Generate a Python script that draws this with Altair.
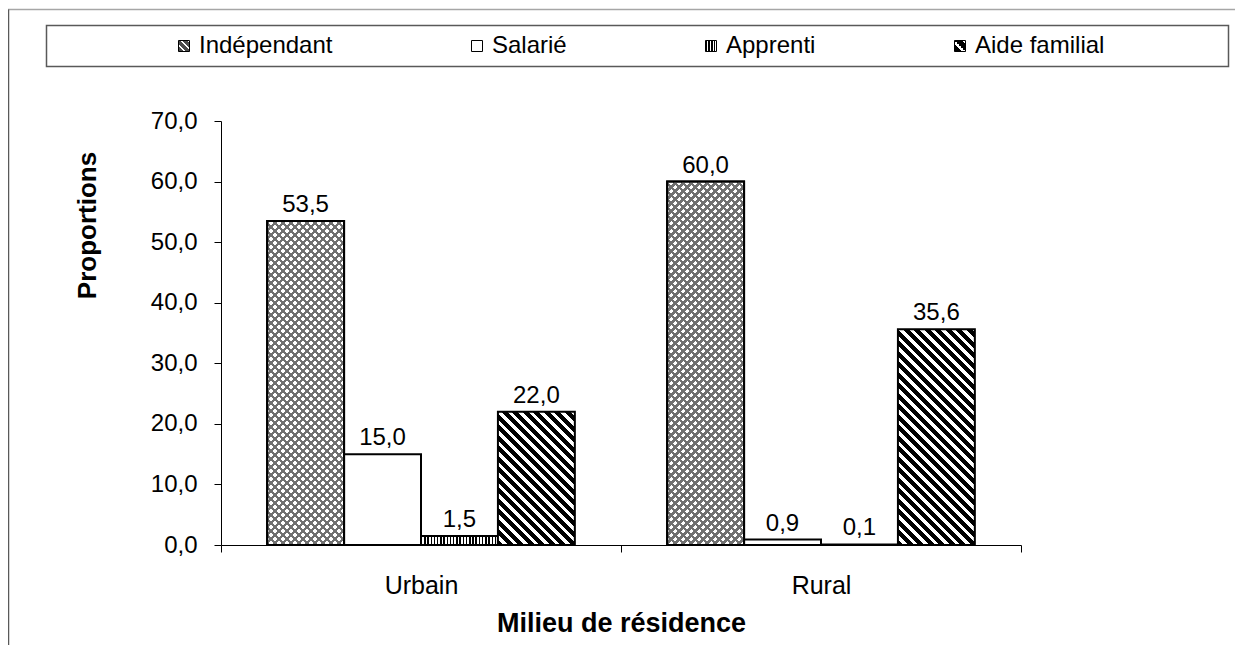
import altair as alt
import pandas as pd

# ---------------- data ----------------
milieux = ["Urbain", "Rural"]
statuts = ["Indépendant", "Salarié", "Apprenti", "Aide familial"]
independant = [53.5, 60.0]
salarie = [15.0, 0.9]
apprenti = [1.5, 0.1]
aide_familial = [22.0, 35.6]
y_ticks = [0, 10, 20, 30, 40, 50, 60, 70]

series = {
    "Indépendant": independant,
    "Salarié": salarie,
    "Apprenti": apprenti,
    "Aide familial": aide_familial,
}
rows = []
for i, m in enumerate(milieux):
    for s in statuts:
        rows.append({"milieu": m, "statut": s, "valeur": series[s][i]})
df = pd.DataFrame(rows)

# ---------------- layout ----------------
W, H = 800, 424
Y_MAX = 70
PAD_OUT = 0.6
BAR_W = (W / len(milieux)) / (len(statuts) + 2 * PAD_OUT)
PX = H / Y_MAX
FONT = "Liberation Sans"


def stripe_stops(n, frac, dark, light):
    stops = []
    for i in range(n):
        a = i / n
        b = (i + frac) / n
        c = (i + 1) / n
        stops += [
            {"offset": round(a, 5), "color": dark},
            {"offset": round(b, 5), "color": dark},
            {"offset": round(b, 5), "color": light},
            {"offset": round(c, 5), "color": light},
        ]
    return stops


def diag_back(w, h, period, frac, dark, light):
    # "\" stripes at 45 degrees, exact horizontal period in pixels
    h = max(h, 0.5)
    n = max(1, -(-int(w + h) // int(period)) + 1)
    k = n * period / (w * w + h * h)
    return {"gradient": "linear", "x1": 0, "y1": 1, "x2": k * w, "y2": 1 - k * h,
            "stops": stripe_stops(n, frac, dark, light)}


def diag_fwd(w, h, period, frac, dark, light):
    # "/" stripes at 45 degrees
    h = max(h, 0.5)
    n = max(1, -(-int(w + h) // int(period)) + 1)
    k = n * period / (w * w + h * h)
    return {"gradient": "linear", "x1": 0, "y1": 0, "x2": k * w, "y2": k * h,
            "stops": stripe_stops(n, frac, dark, light)}


def vertical(w, period, frac, dark, light):
    n = max(1, round(w / period))
    return {"gradient": "linear", "x1": 0, "y1": 0, "x2": 1, "y2": 0,
            "stops": stripe_stops(n, frac, dark, light)}


def js(obj):
    # turn a gradient dict into a Vega expression object literal
    if isinstance(obj, dict):
        return "{" + ",".join(f"{k}:{js(v)}" for k, v in obj.items()) + "}"
    if isinstance(obj, list):
        return "[" + ",".join(js(v) for v in obj) + "]"
    if isinstance(obj, str):
        return "'" + obj + "'"
    return repr(obj)


def test(m, s):
    return f"datum.milieu === '{m}' && datum.statut === '{s}'"


GREY = "#707070"
base_conds = []
over_conds = []
for i, m in enumerate(milieux):
    h_ind = independant[i] * PX
    base_conds.append({"test": test(m, "Indépendant"),
                       "value": diag_back(BAR_W, h_ind, 8.0, 0.45, GREY, "#ffffff")})
    over_conds.append({"test": test(m, "Indépendant"),
                       "value": diag_fwd(BAR_W, h_ind, 8.0, 0.45, GREY, "rgba(255,255,255,0)")})
    base_conds.append({"test": test(m, "Apprenti"),
                       "value": vertical(BAR_W, 3.2, 0.45, "#000000", "#ffffff")})
    h_aide = aide_familial[i] * PX
    base_conds.append({"test": test(m, "Aide familial"),
                       "value": diag_back(BAR_W, h_aide, 10.5, 0.55, "#000000", "#ffffff")})

# legend swatches (small patterned squares)
sw_ind = {"gradient": "linear", "x1": 0, "y1": 1, "x2": 1, "y2": 0,
          "stops": stripe_stops(3, 0.7, "#4a4a4a", "#ffffff")}
sw_app = {"gradient": "linear", "x1": 0, "y1": 0, "x2": 1, "y2": 0,
          "stops": stripe_stops(4, 0.55, "#000000", "#ffffff")}
sw_aide = {"gradient": "linear", "x1": 0, "y1": 1, "x2": 1, "y2": 0,
           "stops": stripe_stops(2, 0.65, "#000000", "#ffffff")}
legend_range = [alt.ExprRef(js(sw_ind)), "#ffffff", alt.ExprRef(js(sw_app)), alt.ExprRef(js(sw_aide))]

x_enc = alt.X(
    "milieu:N", sort=milieux,
    scale=alt.Scale(paddingInner=0, paddingOuter=0),
    axis=alt.Axis(
        title="Milieu de résidence", labelAngle=0, tickBand="extent",
        labelFontSize=25, labelPadding=21, labelColor="black", labelFont=FONT,
        tickSize=7, tickColor="black", domainColor="black",
        titleFontSize=27, titleFontWeight="bold", titleColor="black", titleFont=FONT,
        titlePadding=12,
    ),
)
xo_enc = alt.XOffset("statut:N", sort=statuts,
                     scale=alt.Scale(domain=statuts, paddingInner=0, paddingOuter=PAD_OUT))
y_enc = alt.Y(
    "valeur:Q",
    scale=alt.Scale(domain=[0, Y_MAX], nice=False),
    axis=alt.Axis(
        title="Proportions", values=y_ticks, grid=False,
        labelExpr="replace(format(datum.value, '.1f'), '.', ',')",
        labelFontSize=24, labelPadding=17, labelColor="black", labelFont=FONT,
        tickSize=7, tickColor="black", domainColor="black",
        titleFontSize=26, titleFontWeight="bold", titleColor="black", titleFont=FONT,
        titlePadding=50, titleY=104,
    ),
)

base = alt.Chart(df)

bars = base.mark_bar(stroke="black", strokeWidth=2).encode(
    x=x_enc, xOffset=xo_enc, y=y_enc,
    fill=alt.Fill(
        "statut:N",
        scale=alt.Scale(domain=statuts, range=legend_range),
        condition=base_conds,
        legend=alt.Legend(
            title=None, orient="none", direction="horizontal", columns=4,
            legendX=-49, legendY=-87,
            labelFontSize=24, labelFont=FONT, labelColor="black",
            symbolType="square", symbolSize=121, symbolStrokeColor="black",
            symbolStrokeWidth=1, labelOffset=3, columnPadding=132,
        ),
    ),
)

overlay = base.transform_filter(
    alt.FieldOneOfPredicate(field="statut", oneOf=["Indépendant"])
).mark_bar(stroke="black", strokeWidth=2).encode(
    x=x_enc, xOffset=xo_enc, y=y_enc,
    fill=alt.Fill("statut:N", legend=None,
                  scale=alt.Scale(domain=statuts, range=legend_range),
                  condition=over_conds),
)

labels = base.transform_calculate(
    label="replace(format(datum.valeur, '.1f'), '.', ',')"
).mark_text(dy=-9, baseline="alphabetic", fontSize=24, font=FONT, color="black").encode(
    x=x_enc, xOffset=xo_enc, y=y_enc, text="label:N",
)

# ---------------- decorations (frame + legend box) ----------------
deco = alt.Chart(pd.DataFrame({"k": [0]}))
ORIG_X, ORIG_Y = 221, 121
legend_box = deco.mark_rect(fill="transparent", stroke="#595959", strokeWidth=1.5).encode(
    x=alt.value(46.5 - ORIG_X), x2=alt.value(1228.5 - ORIG_X),
    y=alt.value(25.5 - ORIG_Y), y2=alt.value(66.5 - ORIG_Y),
)
frame_top = deco.mark_rule(color="#a6a6a6", strokeWidth=1.5).encode(
    x=alt.value(8 - ORIG_X), x2=alt.value(1243 - ORIG_X), y=alt.value(9.5 - ORIG_Y),
)
frame_left = deco.mark_rule(color="#595959", strokeWidth=1.5).encode(
    x=alt.value(8.5 - ORIG_X), y=alt.value(9.5 - ORIG_Y), y2=alt.value(661 - ORIG_Y),
)

chart = alt.layer(legend_box, frame_top, frame_left, bars, overlay, labels).properties(
    width=W, height=H,
    autosize=alt.AutoSizeParams(type="none"),
    padding={"left": 213, "top": 113, "right": 214, "bottom": 100},
).configure(font=FONT).configure_view(strokeWidth=0)

chart.save("out.html", embed_options={"renderer": "svg", "actions": False})
